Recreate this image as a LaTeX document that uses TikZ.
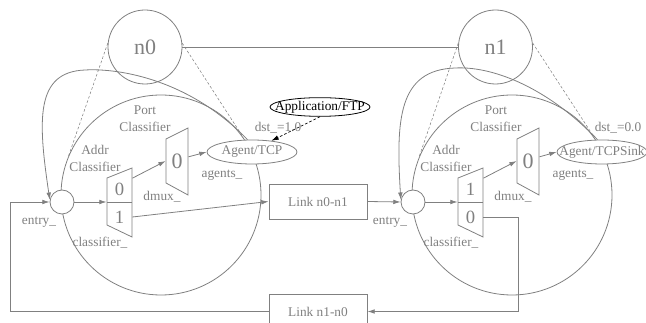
\documentclass[tikz,border=0pt]{standalone}
\usepackage{fontspec}
\setmainfont{Liberation Serif}
\usetikzlibrary{calc,positioning,arrows.meta,shapes.geometric}
\definecolor{nsgray}{RGB}{128,128,128}

\begin{document}
\begin{tikzpicture}[x=0.75pt, y=-0.75pt, color=nsgray, line width=0.6pt, >={Latex[length=5.5pt,width=3.5pt]},
	every node/.style={font=\fontsize{10}{12.5}\selectfont, inner sep=0pt, align=center},
	nsnode/.style={circle, draw, minimum size=55.5pt, font=\fontsize{16.5}{18}\selectfont},
	bigcirc/.style={circle, draw, minimum size=150pt},
	entry/.style={circle, draw, fill=white, minimum size=18pt},
	agent/.style={ellipse, draw, fill=white, minimum width=67.5pt, minimum height=18pt},
	link/.style={rectangle, draw, fill=white, minimum width=73.5pt, minimum height=26.25pt},
	port/.style={minimum width=18.75pt, minimum height=18pt, font=\fontsize{14}{16}\selectfont},
	dlabel/.style={minimum width=16.5pt, minimum height=33pt, font=\fontsize{16.5}{18}\selectfont},
	tie/.style={dashed, dash pattern=on 2pt off 1.5pt, line width=0.4pt}]
	\useasboundingbox (0,0) rectangle (646,323);
	
	\node[nsnode] (n0) at (145,47) {n0};
	\node[nsnode] (n1) at (495.5,47) {n1};
	\node[bigcirc] (node0) at (161,195) {};
	\node[bigcirc] (node1) at (512,195) {};
	\draw (n0) -- (n1);
	\draw[tie] (n0.174) -- (node0.157);
	\draw[tie] (n0.6) -- (node0.35);
	\draw[tie] (n1.174) -- (node1.158);
	\draw[tie] (n1.6) -- (node1.35);
	
	\draw[fill=white] (107,178) -- (132,168) -- (132,237) -- (107,225) -- cycle;
	\draw (107,202) -- (132,202);
	\draw[fill=white] (166,139) -- (188,128) -- (188,195) -- (166,183) -- cycle;
	\draw[fill=white] (458,178) -- (483,168) -- (483,237) -- (458,225) -- cycle;
	\draw (458,202) -- (483,202);
	\draw[fill=white] (517,139) -- (539,128) -- (539,195) -- (517,183) -- cycle;
	
	\node[port] (c00) at (119.5,189) {0};
	\node[port] (c01) at (119.5,217) {1};
	\node[dlabel] (d0) at (177,161) {0};
	\node[port] (c10) at (470.5,189) {1};
	\node[port] (c11) at (470.5,217) {0};
	\node[dlabel] (d1) at (528,161) {0};
	
	\node[agent] (agent0) at (252,152) {\makebox[0pt]{Agent/TCP}};
	\node[agent] (agent1) at (602,152) {\makebox[0pt]{Agent/TCPSink}};
	\node[ellipse, draw, color=black, minimum width=75pt, minimum height=14pt] (app) at (320,107) {\makebox[0pt]{Application/FTP}};
	\node[entry] (entry0) at (62,202) {};
	\node[entry] (entry1) at (413,202) {};
	\node[link] (l01) at (318,201.5) {Link n0-n1};
	\node[link] (l10) at (318,311.5) {Link n1-n0};
	
	\node (pc0) at (145,118.5) {Port\\Classifier};
	\node (ac0) at (95,158.5) {Addr\\Classifier};
	\node (dst0) at (278,128) {dst\_=1.0};
	\node (ag0) at (222,175) {agents\_};
	\node (dm0) at (162,197) {dmux\_};
	\node (en0) at (39,222) {entry\_};
	\node (cl0) at (100,243) {classifier\_};
	\node (pc1) at (496,118.5) {Port\\Classifier};
	\node (ac1) at (446,158.5) {Addr\\Classifier};
	\node (dst1) at (618,128) {dst\_=0.0};
	\node (ag1) at (573,175) {agents\_};
	\node (dm1) at (513,197) {dmux\_};
	\node (en1) at (390,222) {entry\_};
	\node (cl1) at (451,243) {classifier\_};
	
	\draw[->] (entry0.east) -- (entry0.east -| c00.west);
	\draw[->] (c00.40) -- (d0.west);
	\draw[->] (d0.20) -- (agent0.west);
	\draw[->] (c01.east) -- (l01.west);
	\draw[->] (l01.east) -- (entry1.west);
	\draw[->] (entry1.east) -- (entry1.east -| c10.west);
	\draw[->] (c10.40) -- (d1.west);
	\draw[->] (d1.20) -- (agent1.west);
	\draw[->] (c11.east) -- ++(35,0) |- (l10.east);
	\draw[->] (l10.west) -- ++(-258,0) |- (entry0.west);
	\draw[->] (agent0.110) .. controls (190,80) and (120,68) .. (85,70) .. controls (35,72) and (38,120) .. (entry0.170);
	\draw[->] (agent1.110) .. controls (545,85) and (490,66) .. (455,68) .. controls (398,70) and (396,120) .. (entry1.170);
	\draw[->, tie, color=black, line width=0.5pt] (app.south) -- (agent0.30);
	
\end{tikzpicture}
\end{document}
